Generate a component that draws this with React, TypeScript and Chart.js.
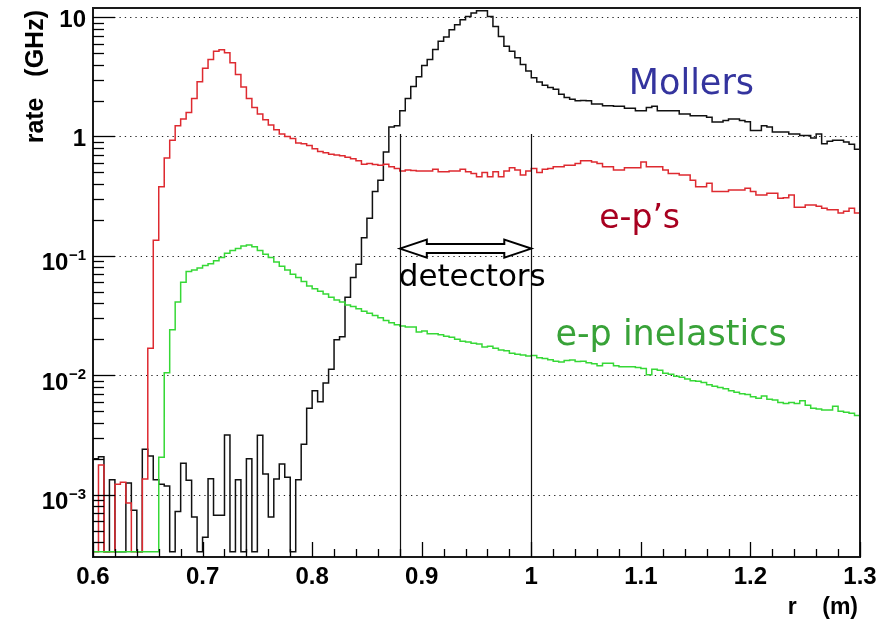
import React, { useEffect, useRef } from 'react';
import { Chart, registerables } from 'chart.js';

Chart.register(...registerables);

// ---- data (one value per 0.005-m bin, 0.600 ... 1.295; 0 = empty bin) ----
const R_MIN = 0.6;
const BIN_WIDTH = 0.005;

const MOLLERS = [
  2.0e-3, 2.07e-3, 0, 1.33e-3, 0, 0, 1.25e-3, 7.4e-4, 0, 2.4e-3,
  2.1e-3, 1.33e-3, 1.22e-3, 1.18e-3, 0, 7.2e-4, 1.83e-3, 1.32e-3, 6.5e-4, 0,
  4.4e-4, 1.36e-3, 6.7e-4, 6.7e-4, 3.16e-3, 0, 1.33e-3, 0, 2.0e-3, 0,
  3.14e-3, 1.49e-3, 6.5e-4, 1.35e-3, 1.8e-3, 1.4e-3, 0, 1.33e-3, 2.64e-3, 5.3e-3,
  7.4e-3, 6.0e-3, 8.6e-3, 0.0112, 0.0198, 0.021, 0.045, 0.066, 0.085, 0.142,
  0.207, 0.346, 0.43, 0.74, 1.2, 1.23, 1.64, 2.08, 2.62, 3.17,
  3.94, 4.41, 5.35, 6.27, 6.81, 7.83, 8.62, 9.48, 10.1, 10.8,
  11.3, 11.3, 10.1, 8.34, 6.89, 5.69, 5.17, 4.56, 4.01, 3.53,
  3.11, 2.86, 2.69, 2.57, 2.49, 2.26, 2.12, 2.05, 1.99, 2.0,
  1.99, 1.87, 1.87, 1.81, 1.81, 1.79, 1.79, 1.72, 1.72, 1.64,
  1.64, 1.75, 1.79, 1.64, 1.64, 1.64, 1.64, 1.54, 1.54, 1.49,
  1.49, 1.49, 1.45, 1.32, 1.32, 1.36, 1.4, 1.4, 1.36, 1.33,
  1.12, 1.12, 1.23, 1.2, 1.09, 1.09, 1.09, 1.05, 1.05, 1.02,
  1.02, 0.97, 1.05, 0.87, 0.91, 0.93, 0.93, 0.9, 0.86, 0.78,
];

const EP_ELASTIC = [
  0, 1.77e-3, 0, 0, 1.22e-3, 1.27e-3, 8.5e-4, 0, 0, 1.35e-3,
  0.0168, 0.135, 0.38, 0.66, 0.93, 1.23, 1.4, 1.59, 2.08, 2.88,
  3.72, 4.41, 5.17, 5.34, 5.02, 4.14, 3.31, 2.6, 2.08, 1.75,
  1.54, 1.38, 1.25, 1.14, 1.05, 1.0, 0.96, 0.88, 0.87, 0.84,
  0.79, 0.75, 0.73, 0.71, 0.7, 0.69, 0.67, 0.65, 0.625, 0.586,
  0.593, 0.582, 0.574, 0.586, 0.557, 0.54, 0.513, 0.523, 0.52, 0.513,
  0.513, 0.513, 0.532, 0.506, 0.506, 0.513, 0.513, 0.532, 0.506, 0.49,
  0.46, 0.5, 0.46, 0.506, 0.46, 0.513, 0.547, 0.523, 0.475, 0.513,
  0.54, 0.5, 0.532, 0.54, 0.557, 0.557, 0.574, 0.574, 0.593, 0.625,
  0.625, 0.61, 0.593, 0.557, 0.557, 0.523, 0.523, 0.547, 0.547, 0.547,
  0.61, 0.557, 0.557, 0.557, 0.523, 0.49, 0.49, 0.475, 0.475, 0.43,
  0.38, 0.38, 0.405, 0.346, 0.346, 0.346, 0.356, 0.356, 0.356, 0.368,
  0.346, 0.324, 0.324, 0.334, 0.334, 0.304, 0.307, 0.324, 0.255, 0.255,
  0.267, 0.267, 0.26, 0.251, 0.243, 0.243, 0.228, 0.236, 0.25, 0.228,
];

const EP_INELASTIC = [
  0, 0, 0, 0, 0, 0, 0, 0, 0, 0,
  0, 0, 2.05e-3, 0.0105, 0.024, 0.041, 0.06, 0.074, 0.076, 0.079,
  0.083, 0.086, 0.091, 0.097, 0.105, 0.111, 0.115, 0.121, 0.123, 0.119,
  0.111, 0.103, 0.097, 0.089, 0.082, 0.076, 0.07, 0.066, 0.061, 0.056,
  0.053, 0.0505, 0.048, 0.045, 0.0427, 0.041, 0.0388, 0.0376, 0.036, 0.0344,
  0.0331, 0.0317, 0.0303, 0.0288, 0.0275, 0.0265, 0.0258, 0.0254, 0.0254, 0.023,
  0.0235, 0.0223, 0.0222, 0.0218, 0.0212, 0.0208, 0.02, 0.0193, 0.019, 0.0185,
  0.0183, 0.0172, 0.0175, 0.0168, 0.0163, 0.016, 0.0153, 0.015, 0.0148, 0.0145,
  0.0146, 0.014, 0.0138, 0.0135, 0.0131, 0.0129, 0.0133, 0.0134, 0.013, 0.0131,
  0.0127, 0.0125, 0.012, 0.0126, 0.0126, 0.012, 0.0118, 0.0118, 0.0118, 0.0116,
  0.0114, 0.0101, 0.0112, 0.011, 0.0104, 0.0102, 0.0098, 0.0096, 0.0093, 0.009,
  0.0089, 0.0087, 0.0083, 0.0081, 0.0079, 0.0077, 0.0074, 0.0072, 0.007, 0.0069,
  0.0066, 0.0064, 0.0067, 0.0063, 0.0062, 0.0059, 0.0058, 0.0059, 0.0058, 0.0061,
  0.0056, 0.0053, 0.0052, 0.0051, 0.0051, 0.0055, 0.005, 0.0049, 0.0048, 0.0046,
];

const X_MIN = 0.6;
const X_MAX = 1.3;
const Y_MIN = 3.315e-4;
const Y_MAX = 11.92;

const X_TICKS = [0.6, 0.7, 0.8, 0.9, 1.0, 1.1, 1.2, 1.3];
const X_TICK_LABELS = ['0.6', '0.7', '0.8', '0.9', '1', '1.1', '1.2', '1.3'];
const Y_DECADES = [10, 1, 0.1, 0.01, 0.001];
const Y_TICK_BASES = ['10', '1', '10', '10', '10'];
const Y_TICK_EXPONENTS = ['', '', '\u22121', '\u22122', '\u22123'];

const Y_TITLE = 'rate   (GHz)';
const X_TITLE = 'r    (m)';

const DETECTOR_EDGES = [0.88, 1.0];
const DETECTOR_TOP = 1.05;
const DETECTOR_ARROW_Y = 0.115;

const LABEL_TEXTS = ['Mollers', 'e-p\u2019s', 'e-p inelastics', 'detectors'];
const LABEL_R = [1.089, 1.062, 1.022, 0.879];
const LABEL_RATE = [2.26, 0.172, 0.0178, 0.0557];
const LABEL_COLORS = ['#34349e', '#a80020', '#38a238', '#000000'];
const LABEL_SIZES = [35, 33, 35, 31];

// ---- helpers ----
function toSteps(values: number[]) {
  const pts = values.map((v, i) => ({ x: R_MIN + BIN_WIDTH * i, y: v > 0 ? v : Y_MIN }));
  const last = values[values.length - 1];
  pts.push({ x: R_MIN + BIN_WIDTH * values.length, y: last > 0 ? last : Y_MIN });
  return pts;
}

const TICK_FONT = 'bold 24px "Liberation Sans", Arial, Helvetica, sans-serif';
const SUP_FONT = 'bold 15px "Liberation Sans", Arial, Helvetica, sans-serif';
const X_TITLE_FONT = 'bold 23px "Liberation Sans", Arial, Helvetica, sans-serif';
const Y_TITLE_FONT = 'bold 25px "Liberation Sans", Arial, Helvetica, sans-serif';

const rootStyle = {
  id: 'rootStyle',
  beforeDatasetsDraw(chart: any) {
    const { ctx, chartArea } = chart;
    const ys = chart.scales.y;
    ctx.save();
    ctx.strokeStyle = '#222';
    ctx.lineWidth = 1.2;
    ctx.setLineDash([1.3, 4]);
    for (const d of Y_DECADES) {
      const py = Math.round(ys.getPixelForValue(d)) + 0.5;
      ctx.beginPath();
      ctx.moveTo(chartArea.left, py);
      ctx.lineTo(chartArea.right, py);
      ctx.stroke();
    }
    ctx.restore();
  },
  afterDatasetsDraw(chart: any) {
    const { ctx, chartArea } = chart;
    const xs = chart.scales.x;
    const ys = chart.scales.y;
    const { left, right, top, bottom } = chartArea;
    ctx.save();

    // detector lines
    ctx.strokeStyle = '#111';
    ctx.lineWidth = 1.2;
    const yTop = ys.getPixelForValue(DETECTOR_TOP);
    for (const e of DETECTOR_EDGES) {
      const px = Math.round(xs.getPixelForValue(e)) + 0.5;
      ctx.beginPath();
      ctx.moveTo(px, bottom);
      ctx.lineTo(px, yTop);
      ctx.stroke();
    }

    // double arrow
    const xl = xs.getPixelForValue(DETECTOR_EDGES[0]);
    const xr = xs.getPixelForValue(DETECTOR_EDGES[1]);
    const ya = ys.getPixelForValue(DETECTOR_ARROW_Y);
    const hl = 27, hh = 9, sh = 4.5;
    ctx.beginPath();
    ctx.moveTo(xl, ya);
    ctx.lineTo(xl + hl, ya - hh);
    ctx.lineTo(xl + hl, ya - sh);
    ctx.lineTo(xr - hl, ya - sh);
    ctx.lineTo(xr - hl, ya - hh);
    ctx.lineTo(xr, ya);
    ctx.lineTo(xr - hl, ya + hh);
    ctx.lineTo(xr - hl, ya + sh);
    ctx.lineTo(xl + hl, ya + sh);
    ctx.lineTo(xl + hl, ya + hh);
    ctx.closePath();
    ctx.fillStyle = '#fff';
    ctx.fill();
    ctx.lineWidth = 2;
    ctx.lineJoin = 'miter';
    ctx.strokeStyle = '#000';
    ctx.stroke();

    // annotation labels
    ctx.textAlign = 'left';
    ctx.textBaseline = 'alphabetic';
    LABEL_TEXTS.forEach((t, i) => {
      ctx.font = `${LABEL_SIZES[i]}px "DejaVu Sans", "Noto Sans", sans-serif`;
      ctx.fillStyle = LABEL_COLORS[i];
      ctx.fillText(t, xs.getPixelForValue(LABEL_R[i]), ys.getPixelForValue(LABEL_RATE[i]));
    });

    // frame
    ctx.strokeStyle = '#1a1a1a';
    ctx.lineWidth = 2;
    ctx.strokeRect(left, top, right - left, bottom - top);

    // y ticks (log)
    ctx.lineWidth = 1.3;
    ctx.strokeStyle = '#000';
    for (let e = -4; e <= 1; e++) {
      for (let k = 1; k <= 9; k++) {
        const v = k * Math.pow(10, e);
        if (v < Y_MIN || v > Y_MAX) continue;
        const py = Math.round(ys.getPixelForValue(v)) + 0.5;
        const len = k === 1 ? 22 : 11;
        ctx.beginPath();
        ctx.moveTo(left, py);
        ctx.lineTo(left + len, py);
        ctx.stroke();
      }
    }
    // x ticks
    for (let i = 0; i < X_TICKS.length; i++) {
      const px = Math.round(xs.getPixelForValue(X_TICKS[i])) + 0.5;
      ctx.beginPath();
      ctx.moveTo(px, bottom);
      ctx.lineTo(px, bottom - 15);
      ctx.stroke();
      if (i < X_TICKS.length - 1) {
        const step = (X_TICKS[i + 1] - X_TICKS[i]) / 5;
        for (let j = 1; j < 5; j++) {
          const mx = Math.round(xs.getPixelForValue(X_TICKS[i] + j * step)) + 0.5;
          ctx.beginPath();
          ctx.moveTo(mx, bottom);
          ctx.lineTo(mx, bottom - 8);
          ctx.stroke();
        }
      }
    }

    // x tick labels
    ctx.fillStyle = '#000';
    ctx.font = TICK_FONT;
    ctx.textAlign = 'center';
    ctx.textBaseline = 'alphabetic';
    X_TICKS.forEach((t, i) => {
      ctx.fillText(X_TICK_LABELS[i], xs.getPixelForValue(t), bottom + 27);
    });

    // y tick labels
    const rightEdge = left - 7;
    Y_DECADES.forEach((d, i) => {
      const py = ys.getPixelForValue(d);
      const exp = Y_TICK_EXPONENTS[i];
      ctx.textBaseline = 'middle';
      if (!exp) {
        ctx.font = TICK_FONT;
        ctx.textAlign = 'right';
        ctx.fillText(Y_TICK_BASES[i], rightEdge, py + 3);
      } else {
        ctx.font = SUP_FONT;
        const w = ctx.measureText(exp).width;
        ctx.textAlign = 'left';
        ctx.fillText(exp, rightEdge - w, py);
        ctx.font = TICK_FONT;
        ctx.textAlign = 'right';
        ctx.fillText(Y_TICK_BASES[i], rightEdge - w - 0.5, py + 8);
      }
    });

    // axis titles
    ctx.font = X_TITLE_FONT;
    ctx.textBaseline = 'alphabetic';
    ctx.textAlign = 'right';
    ctx.fillText(X_TITLE, right - 2, bottom + 57);
    ctx.font = Y_TITLE_FONT;
    ctx.translate(43, top + 2);
    ctx.rotate(-Math.PI / 2);
    ctx.textAlign = 'right';
    ctx.fillText(Y_TITLE, 0, 0);

    ctx.restore();
  },
};

export default function App() {
  const canvasRef = useRef<HTMLCanvasElement | null>(null);

  useEffect(() => {
    if (!canvasRef.current) return;
    const common = {
      stepped: 'before' as const,
      borderWidth: 1.5,
      pointRadius: 0,
      fill: false,
      tension: 0,
    };
    const chart = new Chart(canvasRef.current, {
      type: 'line',
      data: {
        datasets: [
          { ...common, label: 'e-p inelastics', data: toSteps(EP_INELASTIC), borderColor: '#36d836', order: 0 },
          { ...common, label: 'e-p\u2019s', data: toSteps(EP_ELASTIC), borderColor: '#de2a30', order: 1 },
          { ...common, label: 'Mollers', data: toSteps(MOLLERS), borderColor: '#111111', order: 2 },
        ],
      },
      options: {
        animation: false,
        responsive: false,
        maintainAspectRatio: false,
        devicePixelRatio: 1,
        layout: { padding: { left: 93, right: 32, top: 8, bottom: 66 } },
        scales: {
          x: { type: 'linear', min: X_MIN, max: X_MAX, display: false },
          y: { type: 'logarithmic', min: Y_MIN, max: Y_MAX, display: false },
        },
        plugins: {
          legend: { display: false },
          tooltip: { enabled: false },
        },
      },
      plugins: [rootStyle],
    } as any);
    return () => chart.destroy();
  }, []);

  return (
    <div style={{ position: 'fixed', left: 0, top: 0, width: 892, height: 623, background: '#fff' }}>
      <canvas ref={canvasRef} width={892} height={623} />
    </div>
  );
}
